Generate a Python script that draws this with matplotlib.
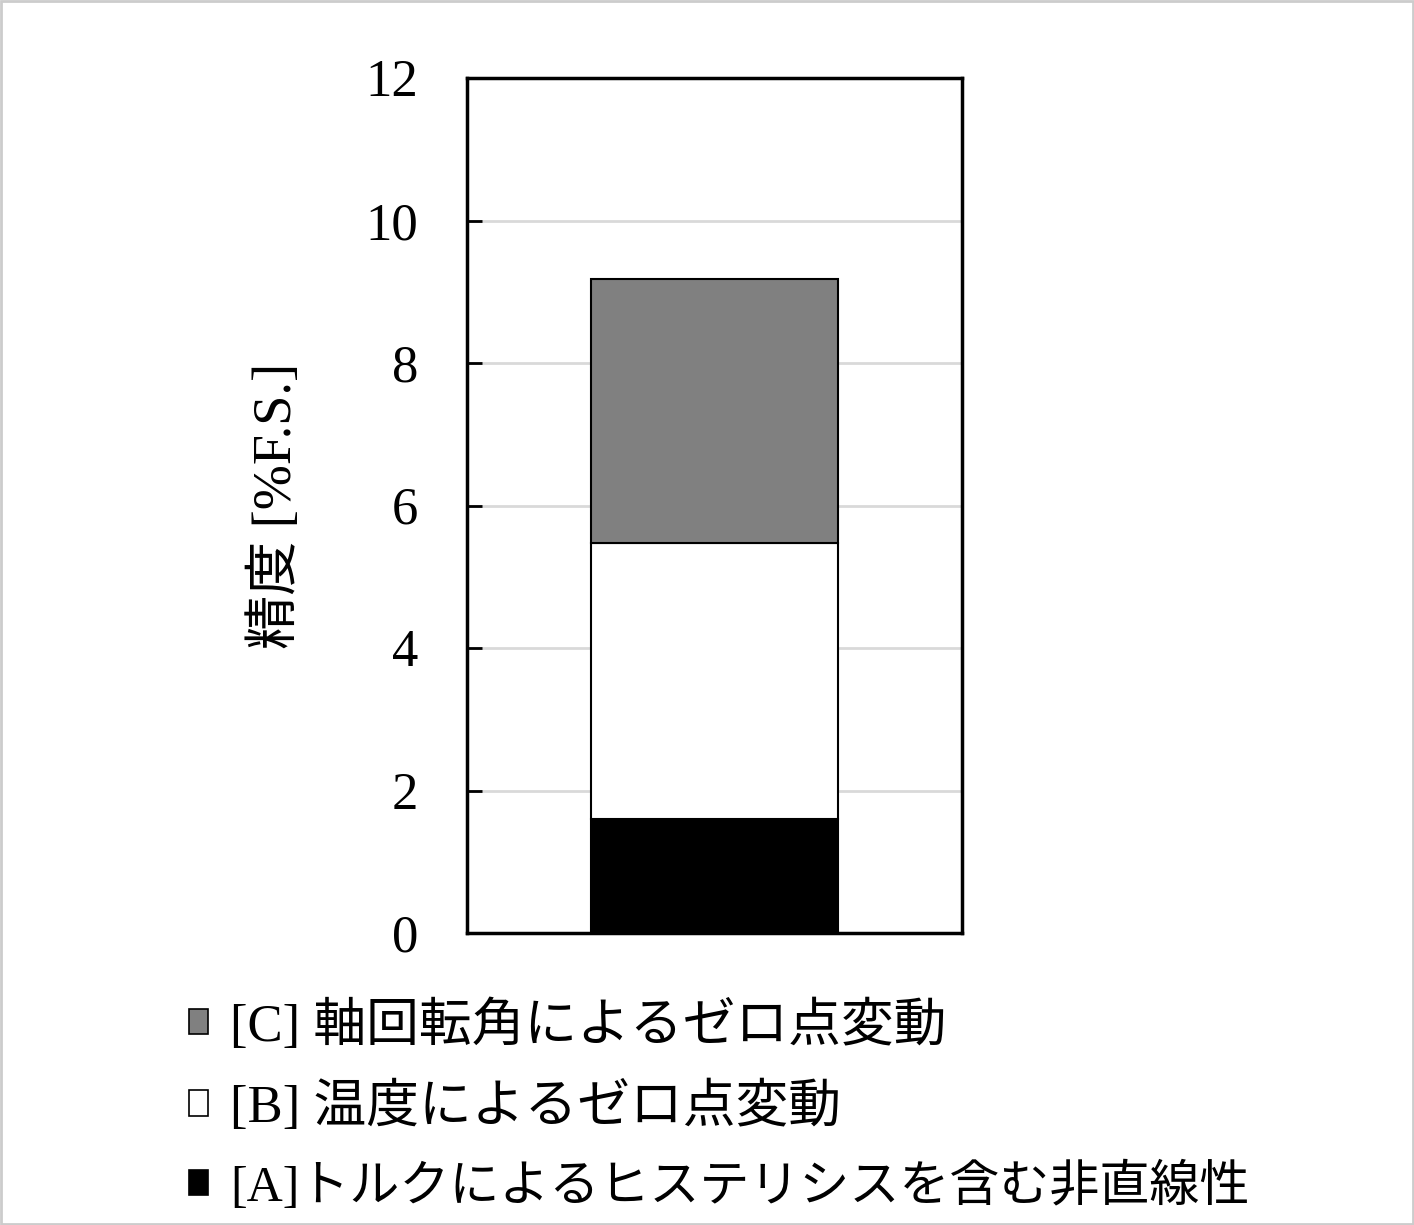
import matplotlib.pyplot as plt
from matplotlib.patches import Patch, Rectangle

plt.rcParams['font.family'] = ['Liberation Serif', 'Noto Sans CJK JP']

# データ (積み上げ棒)
categories = ['']
labels = ['[A]トルクによるヒステリシスを含む非直線性',
          '[B] 温度によるゼロ点変動',
          '[C] 軸回転角によるゼロ点変動']
values = [[1.6], [3.87], [3.71]]
colors = ['#000000', '#ffffff', '#808080']
yticks = [0, 2, 4, 6, 8, 10, 12]

fig = plt.figure(figsize=(14.14, 12.25), dpi=100)
ax = fig.add_axes([467 / 1414, 1 - 933 / 1225, 495 / 1414, 855 / 1225])

bottom = [0.0] * len(categories)
handles = []
for lab, vals, col in zip(labels, values, colors):
    ax.bar(range(len(categories)), vals, width=0.5, bottom=bottom,
           color=col, edgecolor='black', linewidth=1.5, zorder=3)
    bottom = [b + v for b, v in zip(bottom, vals)]
    handles.append(Patch(facecolor=col, edgecolor='black', linewidth=1.2, label=lab))

ax.set_xlim(-0.5, 0.5)
ax.set_ylim(0, 12)
ax.set_yticks(yticks)
ax.set_xticks([])
ax.yaxis.grid(True, color='#d9d9d9', linewidth=2, zorder=0)
ax.set_axisbelow(True)
ax.tick_params(axis='y', direction='in', length=11, width=2, labelsize=38, pad=35,
               color='black')
for s in ax.spines.values():
    s.set_linewidth(2.5)
    s.set_color('black')

ax.set_ylabel('精度 [%F.S.]', fontsize=39, labelpad=45)

leg = fig.legend(handles[::-1], [h.get_label() for h in handles[::-1]],
                 loc='upper left', bbox_to_anchor=(189 / 1414, 1 - 1000 / 1225),
                 frameon=False, fontsize=38, handlelength=0.36, handleheight=0.36,
                 handletextpad=0.42, labelspacing=0.57, borderpad=0, borderaxespad=0)
# [A] の行はプロポーショナル仮名で少し狭い
leg.get_texts()[2].set_fontsize(36)

# 外枠
fig.patches.append(Rectangle((0.001, 0.001), 0.998, 0.998, transform=fig.transFigure,
                             fill=False, edgecolor='#cccccc', linewidth=2))

fig.savefig('out.png', dpi=100)
